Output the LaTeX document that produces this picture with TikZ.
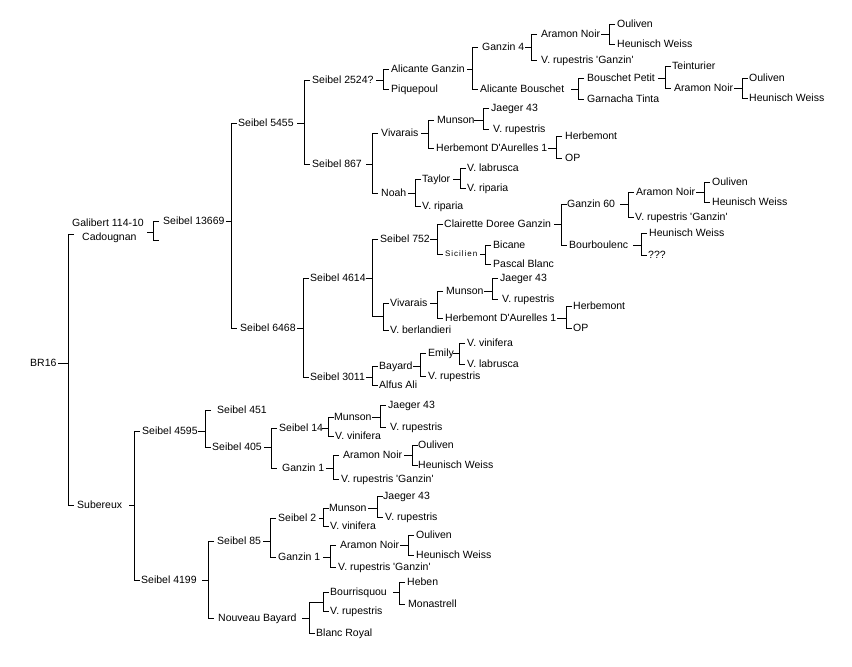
\documentclass[tikz,border=0pt]{standalone}
\usepackage{fontspec}
\setmainfont{Liberation Sans}
\newfontfamily\sicfont{Liberation Sans}[LetterSpace=12]
\newcommand\sq{\textquotesingle}
\newcommand\brk[5]{%
  \coordinate (tx) at (#1,0);
  \coordinate (bx) at (#2,0);
  \draw[conn] (tx |- #3) -- (bx |- #3);
  \draw[conn] (bx |- #4) ++(6,0) -- (bx |- #4) -- (bx |- #5) -- ++(6,0);
}
\begin{document}
\begin{tikzpicture}[x=1pt,y=-1pt,
  lbl/.style={anchor=west,inner sep=0pt,font=\fontsize{10.5pt}{13pt}\selectfont,text height=8pt,text depth=0.5pt},
  smalllbl/.style={anchor=west,inner sep=0pt,font=\sicfont\fontsize{8pt}{10pt}\selectfont,text height=6.2pt,text depth=0.5pt},
  conn/.style={draw=black,line width=0.9pt}]
\fill[white] (0,0) rectangle (852,667);
\useasboundingbox (0,0) rectangle (852,667);
% ---------- labels ----------
\node[lbl] (br16) at (30,363) {BR16};
\node[lbl] (gal1) at (72,223) {Galibert 114-10};
\node[lbl] (gal2) at (82,237) {Cadougnan};
\coordinate (galL) at (72,234);
\coordinate (galR) at (147,232);
\coordinate (galE) at (160,240);
\node[lbl] (s13669) at (163,221) {Seibel 13669};
\node[lbl] (s5455) at (238,123) {Seibel 5455};
\node[lbl] (s2524) at (312,80) {Seibel 2524?};
\node[lbl] (aliG) at (391,69) {Alicante Ganzin};
\node[lbl] (piq) at (391,89) {Piquepoul};
\node[lbl] (gz4) at (482,47) {Ganzin 4};
\node[lbl] (aliB) at (480,89) {Alicante Bouschet};
\node[lbl] (an1) at (541,34) {Aramon Noir};
\node[lbl] (vrg1) at (541,60) {V. rupestris \sq Ganzin\sq};
\node[lbl] (ou1) at (617,24) {Ouliven};
\node[lbl] (hw1) at (617,44) {Heunisch Weiss};
\node[lbl] (bp) at (587,78) {Bouschet Petit};
\node[lbl] (gt) at (587,99) {Garnacha Tinta};
\node[lbl] (tein) at (672,66) {Teinturier};
\node[lbl] (an2) at (674,88) {Aramon Noir};
\node[lbl] (ou2) at (749,78) {Ouliven};
\node[lbl] (hw2) at (749,98) {Heunisch Weiss};
\node[lbl] (s867) at (312,164) {Seibel 867};
\node[lbl] (viv1) at (381,133) {Vivarais};
\node[lbl] (noah) at (381,193) {Noah};
\node[lbl] (mun1) at (437,120) {Munson};
\node[lbl] (hda1) at (436,148) {Herbemont D\sq Aurelles 1};
\node[lbl] (j1) at (491,108) {Jaeger 43};
\node[lbl] (vr1) at (493,129) {V. rupestris};
\node[lbl] (hb1) at (565,136) {Herbemont};
\node[lbl] (op1) at (565,158) {OP};
\node[lbl] (tay) at (422,179) {Taylor};
\node[lbl] (vrip2) at (422,206) {V. riparia};
\node[lbl] (vlab1) at (467,168) {V. labrusca};
\node[lbl] (vrip1) at (467,188) {V. riparia};
\node[lbl] (s6468) at (240,328) {Seibel 6468};
\node[lbl] (s4614) at (310,278) {Seibel 4614};
\node[lbl] (s3011) at (310,377) {Seibel 3011};
\node[lbl] (s752) at (380,239) {Seibel 752};
\coordinate (i1) at (383,316);
\node[lbl] (viv2) at (390,303) {Vivarais};
\node[lbl] (vber) at (390,330) {V. berlandieri};
\node[lbl] (cdg) at (444,224) {Clairette Doree Ganzin};
\node[smalllbl] (sic) at (445,254) {Sicilien};
\node[lbl] (gz60) at (567,204) {Ganzin 60};
\node[lbl] (bourb) at (569,245) {Bourboulenc};
\node[lbl] (an3) at (636,192) {Aramon Noir};
\node[lbl] (vrg3) at (635,217) {V. rupestris \sq Ganzin\sq};
\node[lbl] (ou3) at (712,182) {Ouliven};
\node[lbl] (hw3) at (712,202) {Heunisch Weiss};
\node[lbl] (hw4) at (649,233) {Heunisch Weiss};
\node[lbl] (qqq) at (648,255) {???};
\node[lbl] (bic) at (493,245) {Bicane};
\node[lbl] (pb) at (493,264) {Pascal Blanc};
\node[lbl] (mun2) at (446,291) {Munson};
\node[lbl] (hda2) at (445,318) {Herbemont D\sq Aurelles 1};
\node[lbl] (j2) at (500,278) {Jaeger 43};
\node[lbl] (vr2) at (502,299) {V. rupestris};
\node[lbl] (hb2) at (573,306) {Herbemont};
\node[lbl] (op2) at (573,328) {OP};
\node[lbl] (bay) at (379,366) {Bayard};
\node[lbl] (alf) at (379,385) {Alfus Ali};
\node[lbl] (emily) at (428,353) {Emily};
\node[lbl] (vr3) at (428,376) {V. rupestris};
\node[lbl] (vvin1) at (467,343) {V. vinifera};
\node[lbl] (vlab2) at (467,364) {V. labrusca};
% lower half
\node[lbl] (sub) at (77,505) {Subereux};
\node[lbl] (s4595) at (142,431) {Seibel 4595};
\node[lbl] (s4199) at (141,580) {Seibel 4199};
\node[lbl] (s451) at (217,410) {Seibel 451};
\node[lbl] (s405) at (212,447) {Seibel 405};
\node[lbl] (s14) at (279,428) {Seibel 14};
\node[lbl] (gz1a) at (282,468) {Ganzin 1};
\node[lbl] (mun3) at (334,417) {Munson};
\node[lbl] (vvin2) at (335,436) {V. vinifera};
\node[lbl] (j3) at (388,405) {Jaeger 43};
\node[lbl] (vr4) at (390,427) {V. rupestris};
\node[lbl] (an4) at (343,455) {Aramon Noir};
\node[lbl] (vrg4) at (341,479) {V. rupestris \sq Ganzin\sq};
\node[lbl] (ou4) at (418,445) {Ouliven};
\node[lbl] (hw5) at (418,465) {Heunisch Weiss};
\node[lbl] (s85) at (217,541) {Seibel 85};
\node[lbl] (nb) at (218,618) {Nouveau Bayard};
\node[lbl] (s2) at (278,518) {Seibel 2};
\node[lbl] (gz1b) at (278,557) {Ganzin 1};
\node[lbl] (mun4) at (329,508) {Munson};
\node[lbl] (vvin3) at (330,526) {V. vinifera};
\node[lbl] (j4) at (383,496) {Jaeger 43};
\node[lbl] (vr5) at (385,517) {V. rupestris};
\node[lbl] (an5) at (340,545) {Aramon Noir};
\node[lbl] (vrg5) at (338,567) {V. rupestris \sq Ganzin\sq};
\node[lbl] (ou5) at (416,535) {Ouliven};
\node[lbl] (hw6) at (416,555) {Heunisch Weiss};
\coordinate (i2) at (323,602);
\node[lbl] (bour) at (330,592) {Bourrisquou};
\node[lbl] (vr6) at (330,611) {V. rupestris};
\node[lbl] (blr) at (316,633) {Blanc Royal};
\node[lbl] (heb) at (407,582) {Heben};
\node[lbl] (mon) at (408,604) {Monastrell};
% ---------- connectors ----------
\brk{58}{68}{br16}{galL}{sub}
\brk{147}{153}{galR}{s13669}{galE}
\brk{226}{231}{s13669}{s5455}{s6468}
\brk{297}{304}{s5455}{s2524}{s867}
\brk{376}{383}{s2524}{aliG}{piq}
\brk{467}{472}{aliG}{gz4}{aliB}
\brk{525}{531}{gz4}{an1}{vrg1}
\brk{601}{609}{an1}{ou1}{hw1}
\brk{571}{578}{aliB}{bp}{gt}
\brk{658}{665}{bp}{tein}{an2}
\brk{734}{742}{an2}{ou2}{hw2}
\brk{366}{372}{s867}{viv1}{noah}
\brk{421}{428}{viv1}{mun1}{hda1}
\brk{474}{483}{mun1}{j1}{vr1}
\brk{548}{556}{hda1}{hb1}{op1}
\brk{408}{415}{noah}{tay}{vrip2}
\brk{453}{460}{tay}{vlab1}{vrip1}
\brk{297}{303}{s6468}{s4614}{s3011}
\brk{366}{372}{s4614}{s752}{i1}
\draw[conn] (i1) -- ++(-11,0);
\draw[conn] (i1 |- viv2) ++(6,0) -- (i1 |- viv2) -- (i1 |- vber) -- ++(6,0);
\brk{430}{437}{s752}{cdg}{sic}
\brk{554}{561}{cdg}{gz60}{bourb}
\brk{620}{628}{gz60}{an3}{vrg3}
\brk{696}{704}{an3}{ou3}{hw3}
\brk{633}{641}{bourb}{hw4}{qqq}
\brk{480}{485}{sic}{bic}{pb}
\brk{430}{437}{viv2}{mun2}{hda2}
\brk{484}{492}{mun2}{j2}{vr2}
\brk{557}{566}{hda2}{hb2}{op2}
\brk{366}{372}{s3011}{bay}{alf}
\brk{413}{420}{bay}{emily}{vr3}
\brk{453}{459}{emily}{vvin1}{vlab2}
\brk{129}{134}{sub}{s4595}{s4199}
\brk{198}{205}{s4595}{s451}{s405}
\brk{264}{271}{s405}{s14}{gz1a}
\brk{322}{328}{s14}{mun3}{vvin2}
\brk{372}{380}{mun3}{j3}{vr4}
\brk{326}{333}{gz1a}{an4}{vrg4}
\brk{404}{412}{an4}{ou4}{hw5}
\brk{202}{208}{s4199}{s85}{nb}
\brk{263}{270}{s85}{s2}{gz1b}
\brk{319}{323}{s2}{mun4}{vvin3}
\brk{368}{377}{mun4}{j4}{vr5}
\brk{323}{330}{gz1b}{an5}{vrg5}
\brk{400}{408}{an5}{ou5}{hw6}
\brk{302}{309}{nb}{i2}{blr}
\draw[conn] (i2) -- ++(-14,0);
\draw[conn] (i2 |- bour) ++(6,0) -- (i2 |- bour) -- (i2 |- vr6) -- ++(6,0);
\brk{393}{399}{bour}{heb}{mon}
\end{tikzpicture}
\end{document}
